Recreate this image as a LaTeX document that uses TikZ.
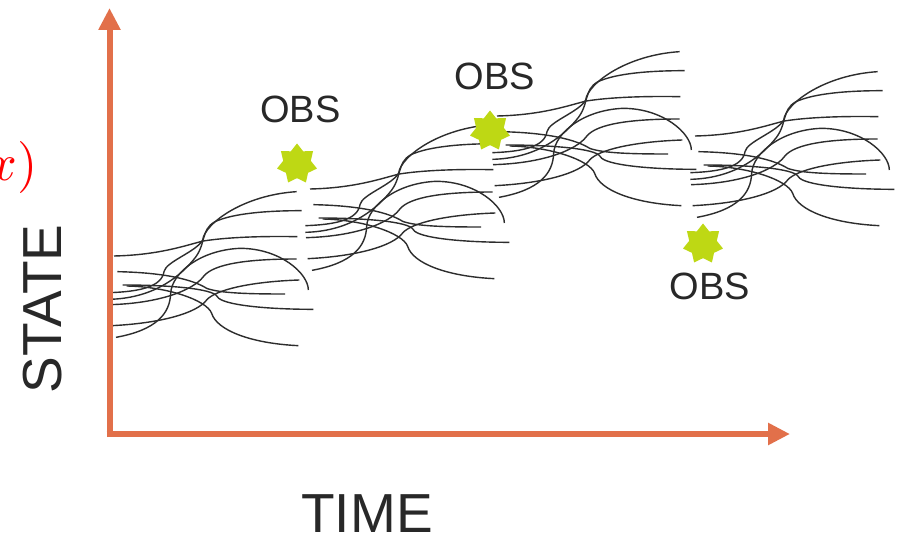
\documentclass[tikz,border=0pt]{standalone}
\usepackage{fontspec}
\setmainfont{Liberation Sans}
\usetikzlibrary{arrows.meta,shapes.geometric}
\definecolor{axisorange}{RGB}{226,112,74}
\definecolor{obsgreen}{RGB}{190,216,20}
\definecolor{txtgray}{RGB}{40,40,40}
\definecolor{trajgray}{RGB}{45,45,45}
\newcommand{\trajbundle}{%
  \draw[traj] (42,228) .. controls (180,225) and (260,195) .. (310,183) .. controls (380,172) and (480,168) .. (592,170);
  \draw[traj] (28,338) .. controls (120,335) and (185,320) .. (192,275) .. controls (197,245) and (290,215) .. (308,180) .. controls (315,130) and (430,45) .. (590,35);
  \draw[traj] (28,358) .. controls (150,355) and (230,300) .. (280,240) .. controls (320,195) and (300,150) .. (345,125) .. controls (400,100) and (500,92) .. (605,92);
  \draw[traj] (30,374) .. controls (180,370) and (280,330) .. (310,290) .. controls (340,250) and (450,237) .. (590,237);
  \draw[traj] (35,437) .. controls (180,430) and (290,400) .. (320,360) .. controls (345,330) and (450,305) .. (598,300);
  \draw[traj] (48,472) .. controls (170,450) and (210,400) .. (212,340) .. controls (215,280) and (300,210) .. (420,205) .. controls (540,205) and (625,280) .. (625,330);
  \draw[traj] (52,275) .. controls (200,278) and (280,300) .. (320,325) .. controls (360,340) and (450,342) .. (555,342);
  \draw[traj] (68,315) .. controls (200,315) and (340,325) .. (352,350) .. controls (365,375) and (500,388) .. (640,388);
  \draw[traj] (80,318) .. controls (200,320) and (320,360) .. (335,400) .. controls (350,450) and (450,490) .. (595,497);
}
\begin{document}
\begin{tikzpicture}[x=1pt,y=-1pt,
  traj/.style={draw=trajgray,line width=1.4pt},
  axisline/.style={draw=axisorange,line width=6pt,-{Triangle[width=21pt,length=22pt]}},
  obsstar/.style={star,star points=7,star point ratio=1.45,minimum size=41pt,inner sep=0pt,fill=obsgreen,draw=none},
  obslabel/.style={font=\fontsize{38}{40}\selectfont,text=txtgray,inner sep=0pt},
  axislabel/.style={font=\fontsize{55}{58}\selectfont,text=txtgray,inner sep=0pt}]
\useasboundingbox (0,0) rectangle (902,537);
\fill[white] (0,0) rectangle (902,537);
% trajectory bundles
\begin{scope}[shift={(100,180)},x=0.33333pt,y=-0.33333pt]\trajbundle\end{scope}
\begin{scope}[shift={(296,113)},x=0.33333pt,y=-0.33333pt]\trajbundle\end{scope}
\begin{scope}[shift={(483,40)},x=0.33333pt,y=-0.33333pt]\trajbundle\end{scope}
\begin{scope}[shift={(681,60)},x=0.33333pt,y=-0.33333pt]\trajbundle\end{scope}
% axes
\coordinate (origin) at (109.5,437);
\coordinate (hstart) at (106.5,434);
\coordinate (ytop) at (109.5,8);
\coordinate (xend) at (790,434);
\draw[axisline] (origin) -- (ytop);
\draw[axisline] (hstart) -- (xend);
% labels
\node[axislabel,rotate=90] (state) at (43,309) {STATE};
\node[axislabel] (time) at (367,514) {TIME};
\node[inner sep=0pt,anchor=base east,text=red] (fx) at (38,181) {\scalebox{5.2}{$x)$}};
% observations
\node[obsstar] (star1) at (297,164) {};
\node[obsstar] (star2) at (490,131) {};
\node[obsstar] (star3) at (703,244) {};
\node[obslabel] (obs1) at (300.5,109) {OBS};
\node[obslabel] (obs2) at (495,76) {OBS};
\node[obslabel] (obs3) at (710,286) {OBS};
\end{tikzpicture}
\end{document}
